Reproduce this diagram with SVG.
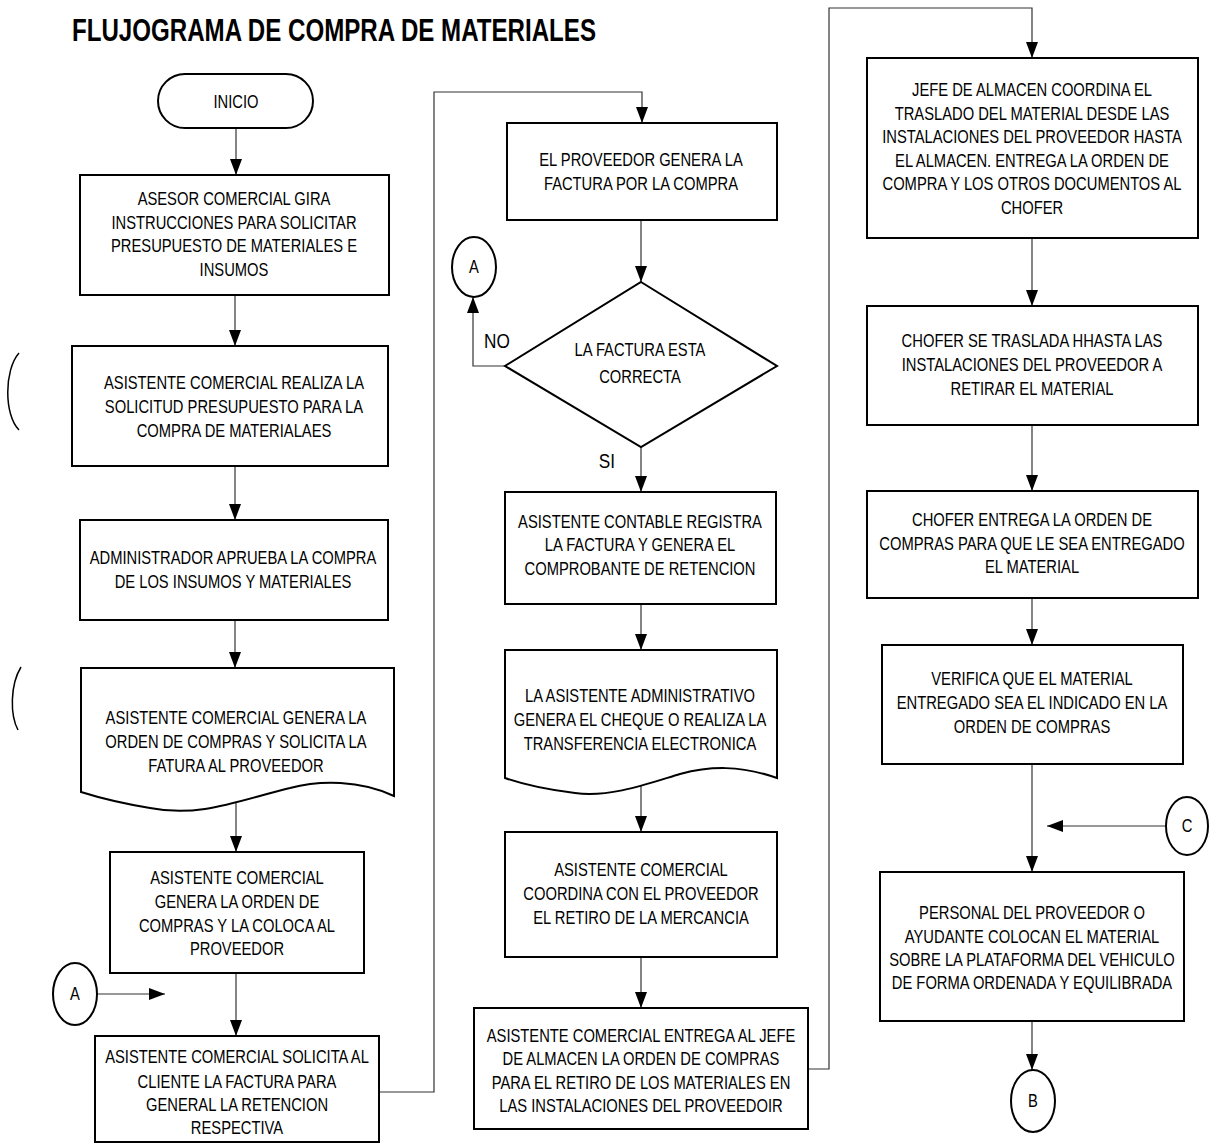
<svg xmlns="http://www.w3.org/2000/svg" width="1210" height="1144" viewBox="0 0 1210 1144">
<style>
.t{font-family:"Liberation Sans",Arial,sans-serif;font-size:18px;fill:#000;text-anchor:middle}
.n{fill:#fff;stroke:#000;stroke-width:2}
.c{fill:none;stroke:#333;stroke-width:1.2}
.ttl{font-family:"Liberation Sans",Arial,sans-serif;font-size:31px;font-weight:bold;fill:#000}
</style>
<defs>
<marker id="ah" viewBox="0 0 16 12" refX="16" refY="6" markerWidth="16" markerHeight="12" markerUnits="userSpaceOnUse" orient="auto"><path d="M0,0 L16,6 L0,12 z" fill="#000"/></marker>
</defs>
<rect width="1210" height="1144" fill="#fff"/>
<text class="ttl" x="72" y="41" textLength="524" lengthAdjust="spacingAndGlyphs">FLUJOGRAMA DE COMPRA DE MATERIALES</text>

<g id="connectors">
<path class="c" d="M236,128 V175" marker-end="url(#ah)"/>
<path class="c" d="M235,295 V346" marker-end="url(#ah)"/>
<path class="c" d="M235,466 V520" marker-end="url(#ah)"/>
<path class="c" d="M235,620 V668" marker-end="url(#ah)"/>
<path class="c" d="M236,795 V852" marker-end="url(#ah)"/>
<path class="c" d="M236,973 V1036" marker-end="url(#ah)"/>
<path class="c" d="M97,994 H165" marker-end="url(#ah)"/>
<path class="c" d="M379,1092 H434 V92 H642 V123" marker-end="url(#ah)"/>
<path class="c" d="M641,220 V282" marker-end="url(#ah)"/>
<path class="c" d="M505,366 H473 V297" marker-end="url(#ah)"/>
<path class="c" d="M641,447 V492" marker-end="url(#ah)"/>
<path class="c" d="M641,604 V650" marker-end="url(#ah)"/>
<path class="c" d="M641,784 V832" marker-end="url(#ah)"/>
<path class="c" d="M641,957 V1008" marker-end="url(#ah)"/>
<path class="c" d="M808,1069 H829 V8 H1032 V58" marker-end="url(#ah)"/>
<path class="c" d="M1032,238 V306" marker-end="url(#ah)"/>
<path class="c" d="M1032,425 V491" marker-end="url(#ah)"/>
<path class="c" d="M1032,598 V645" marker-end="url(#ah)"/>
<path class="c" d="M1032,764 V872" marker-end="url(#ah)"/>
<path class="c" d="M1166,826 H1047" marker-end="url(#ah)"/>
<path class="c" d="M1032,1021 V1070" marker-end="url(#ah)"/>
</g>

<path d="M19,353 C4,370 4,415 19,430" fill="none" stroke="#000" stroke-width="1.5"/>
<path d="M21,667 C10,685 10,715 18,730" fill="none" stroke="#000" stroke-width="1.5"/>

<g id="inicio"><rect class="n" x="158" y="74" width="155" height="54" rx="27" ry="27"/>
<g transform="matrix(0.82,0,0,1,236,0)"><text class="t" x="0" y="108">INICIO</text></g></g>

<g id="n1"><rect class="n" x="80" y="175" width="309" height="120"/>
<g transform="matrix(0.82,0,0,1,234,0)">
<text class="t" x="0" y="205.5">ASESOR COMERCIAL GIRA</text>
<text class="t" x="0" y="229.5">INSTRUCCIONES PARA SOLICITAR</text>
<text class="t" x="0" y="252.5">PRESUPUESTO DE MATERIALES E</text>
<text class="t" x="0" y="276.5">INSUMOS</text></g></g>

<g id="n2"><rect class="n" x="72" y="346" width="316" height="120"/>
<g transform="matrix(0.82,0,0,1,234,0)">
<text class="t" x="0" y="389.5">ASISTENTE COMERCIAL REALIZA LA</text>
<text class="t" x="0" y="413.5">SOLICITUD PRESUPUESTO PARA LA</text>
<text class="t" x="0" y="437.5">COMPRA DE MATERIALAES</text></g></g>

<g id="n3"><rect class="n" x="80" y="520" width="308" height="100"/>
<g transform="matrix(0.82,0,0,1,233,0)">
<text class="t" x="0" y="564.5">ADMINISTRADOR APRUEBA LA COMPRA</text>
<text class="t" x="0" y="588.5">DE LOS INSUMOS Y MATERIALES</text></g></g>

<g id="n4"><path class="n" d="M81,668 H394 V796 C360,780 320,780 290,788 C240,800 200,818 150,808 C120,803 100,798 81,792 Z"/>
<g transform="matrix(0.82,0,0,1,236,0)">
<text class="t" x="0" y="724.5">ASISTENTE COMERCIAL GENERA LA</text>
<text class="t" x="0" y="748.5">ORDEN DE COMPRAS Y SOLICITA LA</text>
<text class="t" x="0" y="772.5">FATURA  AL PROVEEDOR</text></g></g>

<g id="n5"><rect class="n" x="110" y="852" width="254" height="121"/>
<g transform="matrix(0.82,0,0,1,237,0)">
<text class="t" x="0" y="884.5">ASISTENTE COMERCIAL</text>
<text class="t" x="0" y="908.5">GENERA LA ORDEN DE</text>
<text class="t" x="0" y="932.5">COMPRAS Y LA COLOCA AL</text>
<text class="t" x="0" y="955.5">PROVEEDOR</text></g></g>

<g id="n6"><rect class="n" x="95" y="1036" width="284" height="106"/>
<g transform="matrix(0.82,0,0,1,237,0)">
<text class="t" x="0" y="1063.5">ASISTENTE COMERCIAL SOLICITA AL</text>
<text class="t" x="0" y="1087.5">CLIENTE LA FACTURA PARA</text>
<text class="t" x="0" y="1111.5">GENERAL LA RETENCION</text>
<text class="t" x="0" y="1134.5">RESPECTIVA</text></g></g>

<g id="connA1"><ellipse class="n" cx="75" cy="994" rx="22" ry="31"/>
<g transform="matrix(0.82,0,0,1,75,0)"><text class="t" x="0" y="1000.5">A</text></g></g>

<g id="n7"><rect class="n" x="507" y="123" width="270" height="97"/>
<g transform="matrix(0.82,0,0,1,641,0)">
<text class="t" x="0" y="166.5">EL PROVEEDOR GENERA LA</text>
<text class="t" x="0" y="190.5">FACTURA POR LA COMPRA</text></g></g>

<g id="n8"><path class="n" d="M641,282 L777,366 L641,447 L505,366 Z"/>
<g transform="matrix(0.82,0,0,1,640,0)">
<text class="t" x="0" y="356.5">LA FACTURA ESTA</text>
<text class="t" x="0" y="383.5">CORRECTA</text></g></g>
<g transform="matrix(0.82,0,0,1,497,0)"><text class="t" x="0" y="348" style="font-size:21px">NO</text></g>
<g transform="matrix(0.82,0,0,1,607,0)"><text class="t" x="0" y="468" style="font-size:21px">SI</text></g>

<g id="connA2"><ellipse class="n" cx="474" cy="267" rx="22" ry="30"/>
<g transform="matrix(0.82,0,0,1,474,0)"><text class="t" x="0" y="273.5">A</text></g></g>

<g id="n9"><rect class="n" x="505" y="492" width="271" height="112"/>
<g transform="matrix(0.82,0,0,1,640,0)">
<text class="t" x="0" y="528.5">ASISTENTE CONTABLE REGISTRA</text>
<text class="t" x="0" y="551.5">LA FACTURA Y GENERA EL</text>
<text class="t" x="0" y="575.5">COMPROBANTE DE RETENCION</text></g></g>

<g id="n10"><path class="n" d="M505,650 H777 V778 C740,765 710,766 680,774 C650,783 610,798 575,793 C550,790 525,785 505,778 Z"/>
<g transform="matrix(0.82,0,0,1,640,0)">
<text class="t" x="0" y="702.5">LA ASISTENTE ADMINISTRATIVO</text>
<text class="t" x="0" y="726.5">GENERA EL CHEQUE O REALIZA LA</text>
<text class="t" x="0" y="750.5">TRANSFERENCIA ELECTRONICA</text></g></g>

<g id="n11"><rect class="n" x="505" y="832" width="272" height="125"/>
<g transform="matrix(0.82,0,0,1,641,0)">
<text class="t" x="0" y="876.5">ASISTENTE COMERCIAL</text>
<text class="t" x="0" y="900.5">COORDINA CON EL PROVEEDOR</text>
<text class="t" x="0" y="924.5">EL RETIRO DE LA MERCANCIA</text></g></g>

<g id="n12"><rect class="n" x="474" y="1008" width="334" height="121"/>
<g transform="matrix(0.82,0,0,1,641,0)">
<text class="t" x="0" y="1042.5">ASISTENTE COMERCIAL ENTREGA AL JEFE</text>
<text class="t" x="0" y="1065.5">DE ALMACEN LA ORDEN DE COMPRAS</text>
<text class="t" x="0" y="1089.5">PARA EL RETIRO DE LOS MATERIALES EN</text>
<text class="t" x="0" y="1112.5">LAS INSTALACIONES DEL PROVEEDOIR</text></g></g>

<g id="n13"><rect class="n" x="867" y="58" width="331" height="180"/>
<g transform="matrix(0.82,0,0,1,1032,0)">
<text class="t" x="0" y="96.5">JEFE DE ALMACEN COORDINA EL</text>
<text class="t" x="0" y="120.5">TRASLADO DEL MATERIAL DESDE LAS</text>
<text class="t" x="0" y="143.5">INSTALACIONES DEL PROVEEDOR HASTA</text>
<text class="t" x="0" y="167.5">EL ALMACEN. ENTREGA LA ORDEN DE</text>
<text class="t" x="0" y="190.5">COMPRA Y LOS OTROS DOCUMENTOS AL</text>
<text class="t" x="0" y="214.5">CHOFER</text></g></g>

<g id="n14"><rect class="n" x="867" y="306" width="331" height="119"/>
<g transform="matrix(0.82,0,0,1,1032,0)">
<text class="t" x="0" y="347.5">CHOFER SE TRASLADA HHASTA LAS</text>
<text class="t" x="0" y="371.5">INSTALACIONES DEL PROVEEDOR A</text>
<text class="t" x="0" y="395.5">RETIRAR EL MATERIAL</text></g></g>

<g id="n15"><rect class="n" x="867" y="491" width="331" height="107"/>
<g transform="matrix(0.82,0,0,1,1032,0)">
<text class="t" x="0" y="526.5">CHOFER ENTREGA LA ORDEN DE</text>
<text class="t" x="0" y="550.5">COMPRAS PARA QUE LE SEA ENTREGADO</text>
<text class="t" x="0" y="573.5">EL MATERIAL</text></g></g>

<g id="n16"><rect class="n" x="882" y="645" width="301" height="119"/>
<g transform="matrix(0.82,0,0,1,1032,0)">
<text class="t" x="0" y="685.5">VERIFICA QUE EL MATERIAL</text>
<text class="t" x="0" y="709.5">ENTREGADO SEA EL INDICADO EN LA</text>
<text class="t" x="0" y="733.5">ORDEN DE COMPRAS</text></g></g>

<g id="connC"><ellipse class="n" cx="1187" cy="826" rx="21" ry="29"/>
<g transform="matrix(0.82,0,0,1,1187,0)"><text class="t" x="0" y="832.5">C</text></g></g>

<g id="n17"><rect class="n" x="880" y="872" width="304" height="149"/>
<g transform="matrix(0.82,0,0,1,1032,0)">
<text class="t" x="0" y="919.5">PERSONAL DEL PROVEEDOR O</text>
<text class="t" x="0" y="943.5">AYUDANTE COLOCAN EL MATERIAL</text>
<text class="t" x="0" y="966.5">SOBRE LA PLATAFORMA DEL VEHICULO</text>
<text class="t" x="0" y="989.5">DE FORMA ORDENADA Y EQUILIBRADA</text></g></g>

<g id="connB"><ellipse class="n" cx="1033" cy="1101" rx="22" ry="31"/>
<g transform="matrix(0.82,0,0,1,1033,0)"><text class="t" x="0" y="1107.5">B</text></g></g>
</svg>
